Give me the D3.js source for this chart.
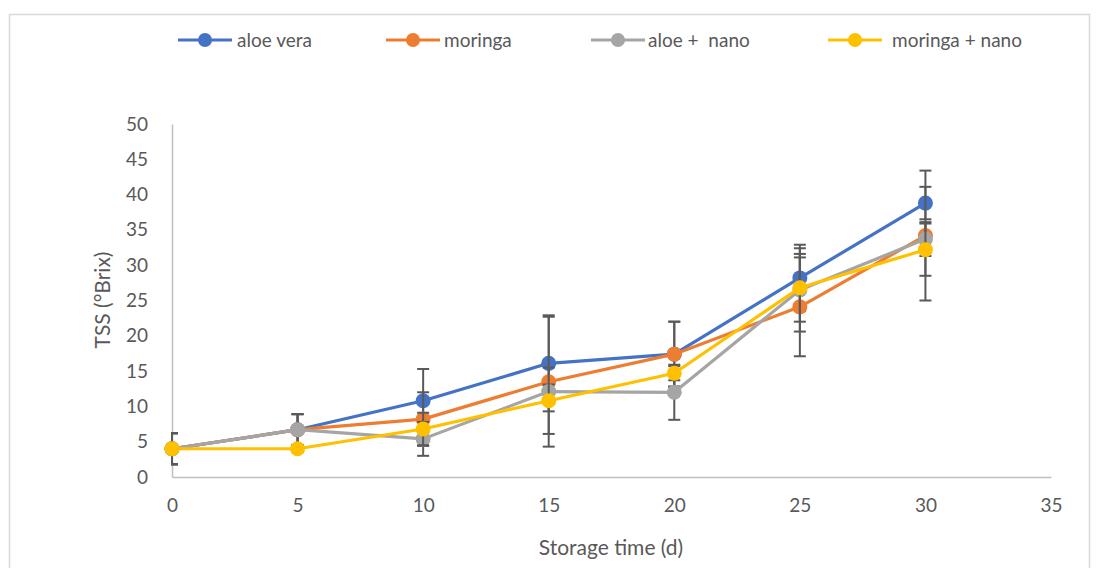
<!DOCTYPE html>
<html>
<head>
<meta charset="utf-8">
<script src="https://cdn.jsdelivr.net/npm/d3@7"></script>
<style>
  html, body { margin: 0; padding: 0; background: #fff; }
  svg { display: block; }
  text { font-family: Lato, "Open Sans", "Liberation Sans", sans-serif; fill: #595959; }
</style>
</head>
<body>
<svg id="chart" width="1099" height="568"></svg>
<script>
// ---- Data ----
const days = [0, 5, 10, 15, 20, 25, 30];
const seriesNames = ["aloe vera", "moringa", "aloe +  nano", "moringa + nano"];
const seriesColors = ["#4472C4", "#ED7D31", "#A5A5A5", "#FFC000"];
const aloeVera     = [4.0, 6.7, 10.8, 16.1, 17.4, 28.2, 38.8];
const moringa      = [4.0, 6.7, 8.2, 13.5, 17.4, 24.1, 34.2];
const aloeNano     = [4.0, 6.7, 5.4, 12.1, 12.0, 26.5, 33.7];
const moringaNano  = [4.0, 4.0, 6.8, 10.8, 14.7, 26.8, 32.2];
const aloeVeraErr    = [2.2, 2.2, 4.5, 6.8, 4.6, 4.7, 2.3];
const moringaErr     = [2.2, 2.2, 3.8, 9.2, 4.6, 7.0, 9.2];
const aloeNanoErr    = [2.2, 2.2, 2.4, 1.0, 3.9, 5.9, 2.4];
const moringaNanoErr = [2.2, 0.5, 2.3, 4.7, 1.0, 4.8, 3.7];
const xTicks = [0, 5, 10, 15, 20, 25, 30, 35];
const yTicks = [0, 5, 10, 15, 20, 25, 30, 35, 40, 45, 50];
const xTitle = "Storage time (d)";
const yTitle = "TSS (°Brix)";

const allValues = [aloeVera, moringa, aloeNano, moringaNano];
const allErrors = [aloeVeraErr, moringaErr, aloeNanoErr, moringaNanoErr];

// ---- Layout ----
const svg = d3.select("#chart");
const W = 1099, H = 568;
const x = d3.scaleLinear().domain([0, 35]).range([172, 1051]);
const y = d3.scaleLinear().domain([0, 50]).range([477, 124]);

// Chart border
svg.append("rect")
  .attr("x", 9.5).attr("y", 14.5).attr("width", 1080).attr("height", 600)
  .attr("fill", "none").attr("stroke", "#d9d9d9").attr("stroke-width", 1.5);

// Axes
const xAxis = d3.axisBottom(x).tickValues(xTicks).tickSize(0).tickPadding(22);
const gx = svg.append("g").attr("transform", `translate(0,${y(0)})`).call(xAxis);
gx.select(".domain").attr("stroke", "#bfbfbf").attr("stroke-width", 1.5);
gx.selectAll("text").style("font-size", "19px").style("font-family", "Lato, sans-serif").attr("fill", "#595959");

const yAxis = d3.axisLeft(y).tickValues(yTicks).tickSize(0).tickPadding(24);
const gy = svg.append("g").attr("transform", `translate(${x(0)},0)`).call(yAxis);
gy.select(".domain").attr("stroke", "#bfbfbf").attr("stroke-width", 1.5);
gy.selectAll("text").style("font-size", "19px").style("font-family", "Lato, sans-serif").attr("fill", "#595959");

// Axis titles
svg.append("text").attr("x", 611).attr("y", 555)
  .attr("text-anchor", "middle").style("font-size", "21px").text(xTitle);
svg.append("text")
  .attr("transform", `translate(110,300) rotate(-90)`)
  .attr("text-anchor", "middle").style("font-size", "21px").text(yTitle);

// Clip for error bars
svg.append("clipPath").attr("id", "plotclip")
  .append("rect").attr("x", x(0) - 1).attr("y", 0).attr("width", 1000).attr("height", H);

const capW = 6;
allValues.forEach((vals, si) => {
  const errs = allErrors[si];
  const color = seriesColors[si];
  const pts = days.map((d, i) => ({ d, v: vals[i], e: errs[i] }));

  // Error bars
  const eg = svg.append("g").attr("clip-path", "url(#plotclip)")
    .attr("stroke", "#595959").attr("stroke-width", 2).attr("fill", "none");
  pts.forEach(p => {
    const cx = x(p.d), top = y(p.v + p.e), bot = y(p.v - p.e);
    eg.append("line").attr("x1", cx).attr("x2", cx).attr("y1", top).attr("y2", bot);
    eg.append("line").attr("x1", cx - capW).attr("x2", cx + capW).attr("y1", top).attr("y2", top);
    eg.append("line").attr("x1", cx - capW).attr("x2", cx + capW).attr("y1", bot).attr("y2", bot);
  });

  // Line
  const line = d3.line().x(p => x(p.d)).y(p => y(p.v));
  svg.append("path").datum(pts).attr("d", line)
    .attr("fill", "none").attr("stroke", color).attr("stroke-width", 3.2)
    .attr("stroke-linejoin", "round");

  // Markers
  svg.append("g").selectAll("circle").data(pts).join("circle")
    .attr("cx", p => x(p.d)).attr("cy", p => y(p.v)).attr("r", 7.5)
    .attr("fill", color);
});

// Legend
const legendX = [178, 386, 591, 828];
const legendTextX = [237, 444, 648, 892];
seriesNames.forEach((name, i) => {
  const g = svg.append("g");
  g.append("line").attr("x1", legendX[i]).attr("x2", legendX[i] + 54)
    .attr("y1", 40).attr("y2", 40).attr("stroke", seriesColors[i]).attr("stroke-width", 3.2);
  g.append("circle").attr("cx", legendX[i] + 27).attr("cy", 40).attr("r", 7)
    .attr("fill", seriesColors[i]);
  g.append("text").attr("x", legendTextX[i]).attr("y", 47)
    .style("font-size", "19px").style("white-space", "pre").attr("xml:space", "preserve")
    .text(name);
});
</script>
</body>
</html>
